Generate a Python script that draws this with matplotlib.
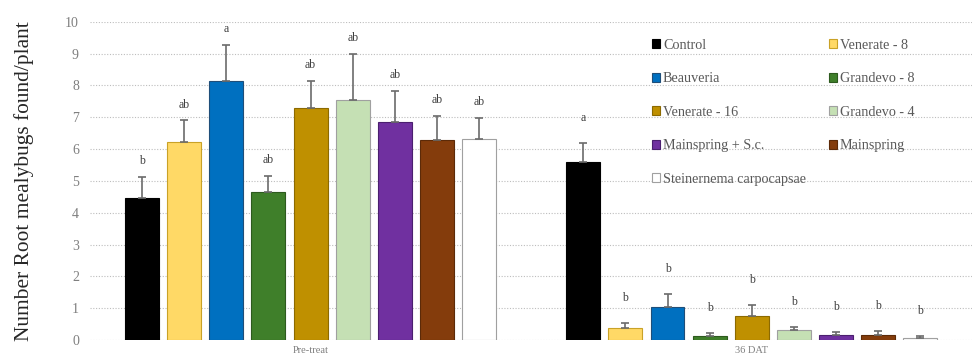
import matplotlib.pyplot as plt
import numpy as np

plt.rcParams["font.family"] = ["Liberation Serif", "DejaVu Serif"]

groups = ["Pre-treat", "36 DAT"]
treatments = [
    "Control",
    "Venerate - 8",
    "Beauveria",
    "Grandevo - 8",
    "Venerate - 16",
    "Grandevo - 4",
    "Mainspring + S.c.",
    "Mainspring",
    "Steinernema carpocapsae",
]
# mean root mealybugs per plant, one row per treatment: [pre-treat, 36 DAT]
means = [
    [4.45, 5.59],
    [6.23, 0.37],
    [8.15, 1.03],
    [4.64, 0.13],
    [7.28, 0.75],
    [7.55, 0.31],
    [6.85, 0.16],
    [6.28, 0.16],
    [6.33, 0.07],
]
# standard errors
errors = [
    [0.68, 0.59],
    [0.67, 0.15],
    [1.13, 0.41],
    [0.52, 0.08],
    [0.85, 0.35],
    [1.45, 0.09],
    [0.99, 0.09],
    [0.77, 0.11],
    [0.65, 0.05],
]
letters = [
    ["b", "a"],
    ["ab", "b"],
    ["a", "b"],
    ["ab", "b"],
    ["ab", "b"],
    ["ab", "b"],
    ["ab", "b"],
    ["ab", "b"],
    ["ab", "b"],
]

fills = ["#000000", "#FFD966", "#0070C0", "#3F7F2A", "#BF9000",
         "#C5E0B4", "#7030A0", "#843C0C", "#FFFFFF"]
edges = ["#000000", "#C9A227", "#1F4E79", "#2D5A1E", "#8C6A00",
         "#A0A0A0", "#4B1F6F", "#5C2A08", "#A0A0A0"]

fig = plt.figure(figsize=(9.75, 3.64), dpi=100)
ax = fig.add_axes([0.0923, 0.066, 0.905, 0.874])

x = np.arange(len(groups))
slot = 0.0955
width = 0.077
text_gap = [0.5, 0.8]

handles = []
for i, name in enumerate(treatments):
    pos = x + (i - 4) * slot
    b = ax.bar(pos, means[i], width, color=fills[i], edgecolor=edges[i],
               linewidth=0.8, label=name, zorder=3)
    handles.append(b)
    ax.errorbar(pos, means[i], yerr=[[0, 0], errors[i]], fmt="none",
                ecolor="#6b6b6b", elinewidth=1.2, capsize=3, capthick=1.2,
                zorder=4)
    for j in range(len(groups)):
        top = means[i][j] + errors[i][j] + text_gap[j]
        ax.text(pos[j], top, letters[i][j], ha="center", va="center",
                fontsize=8.5, color="#404040")

ax.set_xlim(-0.5, 1.5)
ax.set_ylim(0, 10)
ax.set_yticks(range(0, 11))
ax.set_xticks(x)
ax.set_xticklabels(groups, fontsize=7.5, color="#595959")
ax.tick_params(axis="y", length=0, labelsize=10, colors="#7f7f7f", pad=8)
ax.tick_params(axis="x", length=0, pad=4, labelsize=7.5, colors="#7f7f7f")
ax.grid(axis="y", linestyle=(0, (1, 1.5)), color="#bdbdbd", linewidth=0.8,
        zorder=0)
for s in ax.spines.values():
    s.set_visible(False)

ax.set_ylabel("Number Root mealybugs found/plant", fontsize=15.4,
              color="#262626", labelpad=22)

order = [0, 2, 4, 6, 8, 1, 3, 5, 7]
leg = ax.legend([handles[k] for k in order], [treatments[k] for k in order],
                ncol=2, loc="upper left", bbox_to_anchor=(0.63, 0.965),
                frameon=False, fontsize=10.2, labelspacing=1.45,
                handlelength=0.6, handleheight=0.6, handletextpad=0.2,
                columnspacing=1.6, borderaxespad=0)
for t in leg.get_texts():
    t.set_color("#595959")

fig.savefig("out.png", dpi=100)
